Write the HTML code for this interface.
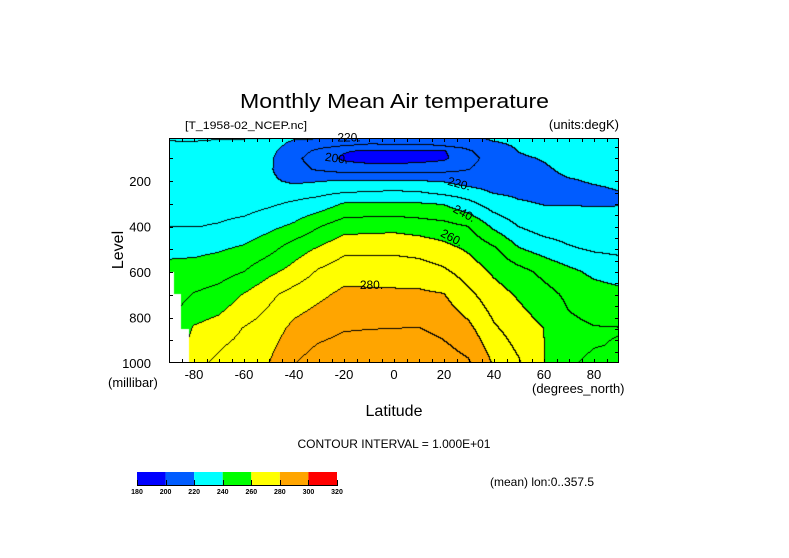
<!DOCTYPE html>
<html><head><meta charset="utf-8"><style>
html,body{margin:0;padding:0;background:#fff;}
#wrap{position:relative;width:789px;height:558px;overflow:hidden;font-family:"Liberation Sans",sans-serif;}
svg text{font-family:"Liberation Sans",sans-serif;fill:#000;}
#plot{position:absolute;left:169px;top:138px;}
#overlay{position:absolute;left:0;top:0;}
</style></head><body>
<div id="wrap">
<canvas id="plot" width="450" height="225"></canvas>
<svg id="overlay" width="789" height="558"></svg>
</div>
<script>
// ---- data ----
const lats = [-90,-80,-70,-60,-50,-40,-30,-20,-10,0,10,20,30,40,50,60,70,80,90];
const levels = [10,20,30,50,70,100,150,200,250,300,400,500,600,700,850,925,1000];
const tLatM90 = [233,231,229,228,227,226,226,226,226,227,230,237.5,243,245,248,250,252];
const tLatM80 = [232.5,231,229.5,228,227,226,225.5,225.5,226,227,229.7,237.5,244,250.5,261,264,267];
const tLatM70 = [231,229.7,228.5,227,226,225,224.5,224.5,225,226.5,230.6,239,246,253.5,264.3,268.9,272];
const tLatM60 = [231,229.5,227.5,226,225,224,223,223,224,226,233,241.6,250,260.5,270.5,273,276];
const tLatM50 = [231,229,226,224,223,222,221.5,222,224,228.3,237.4,246.8,257.5,267.7,274.5,277.2,279.8];
const tLatM40 = [223,220,218,216,214,212,213,218,225.5,231.4,241.7,255.3,263.6,273.6,282.5,286,289.5];
const tLatM30 = [222,218.5,215,212,208,206,209,219.3,227.2,234.2,249.3,261.3,271.3,277.9,286.3,290.7,294.5];
const tLatM20 = [221,217,213,209,201,198,206,220.7,229.5,240.5,255.6,267.4,275.9,282.2,289.3,293,297];
const tLatM10 = [218,213,211,208.5,198,195,205.5,220.7,230.5,241,256.3,267.7,275.7,282,289.8,293.5,297.5];
const tLat0   = [215,212,211,209,197,195,205,220.8,231.3,241.2,256.8,267.9,275.4,281.8,290,294,298];
const tLatP10 = [215,212,211,209,198,196,206,220,230.4,240.5,255.3,266.5,274.9,281.7,290.3,294,297.5];
const tLatP20 = [215,213,211.5,209.5,199,198,207,219.3,227.2,239.3,253.3,263.4,271.8,280.4,287.6,291.2,294.5];
const tLatP30 = [217,215.5,214,212,209,207,210,215.5,224.1,232.8,249.8,258.6,265.6,272.3,282.5,287,291];
const tLatP40 = [222.5,221,219.5,217,215.5,214,214,215.5,219.3,224.8,238,251.8,258.5,264.1,271.5,275.5,279];
const tLatP50 = [224,223,222,221,220.2,219,218,217.5,218.2,221,229.8,240.8,253.5,258.8,265,268,271];
const tLatP60 = [225,224.5,224,223,222,220.5,219,218,218,219.6,225,236,247.5,253.5,260,260.3,260.5];
const tLatP70 = [225,224.7,224.5,224,223.5,223,221.5,219.5,218.5,219.6,224,231.3,242.5,248,252.3,252.3,251];
const tLatP80 = [223,223,223,223,223,223,222,220.5,219,219.5,223,228.8,237.8,244.5,250.5,250.3,248.5];
const tLatP90 = [221.5,222,222,222.5,222.5,222.5,222,221,219.9,219.7,222.5,227.8,235.5,242.7,250.3,249.6,246];
const columns = [tLatM90,tLatM80,tLatM70,tLatM60,tLatM50,tLatM40,tLatM30,tLatM20,tLatM10,tLat0,tLatP10,tLatP20,tLatP30,tLatP40,tLatP50,tLatP60,tLatP70,tLatP80,tLatP90];
const terrainLatEdges = [-90,-88,-85,-82];
const terrainSurfaceP = [600,697,850];
const shadeLevels = [180,200,220,240,260,280,300,320];
const shadeColors = ["#0000ff","#005cff","#00ffff","#00ff00","#ffff00","#ffa500","#ff0000"];
const contourStep = 10;
const xTickLabels = [-80,-60,-40,-20,0,20,40,60,80];
const yTickLabels = [200,400,600,800,1000];
const contourLabels = [
  {text:"220.", lat:-18, p:12, rot:0},
  {text:"200.", lat:-23, p:103, rot:8},
  {text:"220.", lat:26, p:215, rot:15},
  {text:"240.", lat:28, p:345, rot:28},
  {text:"260.", lat:23, p:452, rot:28},
  {text:"280.", lat:-9, p:660, rot:0}
];

// ---- axes ----
const PL=169, PT=138, PW=450, PH=225;
const latMin=-90, latMax=90, pMin=10, pMax=1000;
function xOf(lat){return PL + (lat-latMin)/(latMax-latMin)*PW;}
function yOf(p){return PT + (p-pMin)/(pMax-pMin)*PH;}

function valueAt(lat,p){
  let i=0; while(i<lats.length-2 && lat>lats[i+1]) i++;
  let j=0; while(j<levels.length-2 && p>levels[j+1]) j++;
  const fx=Math.max(0,Math.min(1,(lat-lats[i])/(lats[i+1]-lats[i])));
  const fy=Math.max(0,Math.min(1,(p-levels[j])/(levels[j+1]-levels[j])));
  const a=columns[i][j], b=columns[i+1][j], c=columns[i][j+1], d=columns[i+1][j+1];
  return a*(1-fx)*(1-fy)+b*fx*(1-fy)+c*(1-fx)*fy+d*fx*fy;
}
function isMasked(lat,p){
  for(let k=0;k<terrainSurfaceP.length;k++){
    if(lat>=terrainLatEdges[k] && lat<terrainLatEdges[k+1] && p>terrainSurfaceP[k]) return true;
  }
  return false;
}
function hexRGB(h){return [parseInt(h.substr(1,2),16),parseInt(h.substr(3,2),16),parseInt(h.substr(5,2),16)];}
const rgbs = shadeColors.map(hexRGB);

// ---- field render ----
const cv=document.getElementById('plot');
const ctx=cv.getContext('2d');
const img=ctx.createImageData(PW,PH);
const T=new Float32Array(PW*PH), M=new Uint8Array(PW*PH);
for(let py=0;py<PH;py++){
  const p=pMin+(py+0.5)/PH*(pMax-pMin);
  for(let px=0;px<PW;px++){
    const lat=latMin+(px+0.5)/PW*(latMax-latMin);
    T[py*PW+px]=valueAt(lat,p);
    M[py*PW+px]=isMasked(lat,p)?1:0;
  }
}
for(let py=0;py<PH;py++){
  for(let px=0;px<PW;px++){
    const k=py*PW+px, o=k*4;
    let c=[255,255,255];
    if(!M[k]){
      const t=T[k];
      let b=0; while(b<shadeColors.length-1 && t>=shadeLevels[b+1]) b++;
      c=rgbs[b];
      const lv=Math.floor(t/contourStep);
      let edge=false;
      if(px<PW-1 && !M[k+1] && Math.floor(T[k+1]/contourStep)!==lv) edge=true;
      if(py<PH-1 && !M[k+PW] && Math.floor(T[k+PW]/contourStep)!==lv) edge=true;
      if(edge) c=[0,0,0];
    }
    img.data[o]=c[0];img.data[o+1]=c[1];img.data[o+2]=c[2];img.data[o+3]=255;
  }
}
ctx.putImageData(img,0,0);

// ---- svg overlay ----
const NS="http://www.w3.org/2000/svg";
const svg=document.getElementById('overlay');
function mk(tag,attrs,parent){const e=document.createElementNS(NS,tag);for(const k in attrs)e.setAttribute(k,attrs[k]);(parent||svg).appendChild(e);return e;}

contourLabels.forEach(function(l){
  const g=mk('text',{x:xOf(l.lat),y:yOf(l.p),'font-size':'12','text-anchor':'middle','dominant-baseline':'middle',transform:'rotate('+l.rot+' '+xOf(l.lat)+' '+yOf(l.p)+')'});
  
  
  g.textContent=l.text;
});

const frame=mk('rect',{x:PL+0.5,y:PT+0.5,width:PW-1,height:PH-1,fill:'none',stroke:'#000','stroke-width':'1'});



const ticks=mk('g',{stroke:'#000','stroke-width':'1'});


for(let lat=-85;lat<=85;lat+=5){
  const x=Math.round(xOf(lat))+0.5;
  mk('line',{x1:x,y1:PT+PH,x2:x,y2:PT+PH-4},ticks);
  mk('line',{x1:x,y1:PT,x2:x,y2:PT+4},ticks);
}
for(let p=100;p<=900;p+=100){
  const y=Math.round(yOf(p))+0.5;
  mk('line',{x1:PL,y1:y,x2:PL+4,y2:y},ticks);
}
for(let p=50;p<1000;p+=50){
  const y=Math.round(yOf(p))+0.5;
  mk('line',{x1:PL+PW,y1:y,x2:PL+PW-4,y2:y},ticks);
}

xTickLabels.forEach(function(v){
  const t=mk('text',{x:xOf(v),y:379,'font-size':'13','text-anchor':'middle'});
  
  
  t.textContent=v;
});
yTickLabels.forEach(function(v){
  const t=mk('text',{x:151,y:yOf(v)+5,'font-size':'13','text-anchor':'end'});
  
  
  t.textContent=v;
});

const cbX0=137, cbX1=337, cbY=472, cbH=13;
const nB=shadeColors.length, cbW=(cbX1-cbX0)/nB;
shadeColors.forEach(function(c,i){
  const r=mk('rect',{x:cbX0+i*cbW,y:cbY,width:cbW,height:cbH,fill:c});
  
  
});
const cbTicks=mk('g',{stroke:'#000','stroke-width':'1'});


mk('line',{x1:cbX0,y1:cbY+cbH+0.5,x2:cbX1,y2:cbY+cbH+0.5},cbTicks);
shadeLevels.forEach(function(v,i){
  const x=Math.round(cbX0+i*cbW)+0.5;
  mk('line',{x1:x,y1:cbY+cbH-5,x2:x,y2:cbY+cbH+1},cbTicks);
  const t=mk('text',{x:cbX0+i*cbW,y:cbY+cbH+9,'font-size':'7','font-weight':'bold','text-anchor':'middle'});
  
  
  t.textContent=v;
});
</script>
<svg width="789" height="558" style="position:absolute;left:0;top:0;pointer-events:none">
<text x="240" y="108" font-size="20" textLength="309" lengthAdjust="spacingAndGlyphs" style="font-family:'Liberation Sans',sans-serif">Monthly Mean Air temperature</text>
<text x="185" y="129" font-size="11" textLength="122" lengthAdjust="spacingAndGlyphs" style="font-family:'Liberation Sans',sans-serif">[T_1958-02_NCEP.nc]</text>
<text x="619" y="129" font-size="13" text-anchor="end" style="font-family:'Liberation Sans',sans-serif">(units:degK)</text>
<text transform="translate(123 250) rotate(-90)" font-size="16" text-anchor="middle" style="font-family:'Liberation Sans',sans-serif">Level</text>
<text x="108" y="387" font-size="13" style="font-family:'Liberation Sans',sans-serif">(millibar)</text>
<text x="532" y="393" font-size="13" style="font-family:'Liberation Sans',sans-serif">(degrees_north)</text>
<text x="394" y="416" font-size="16" text-anchor="middle" style="font-family:'Liberation Sans',sans-serif">Latitude</text>
<text x="394" y="448" font-size="12" text-anchor="middle" style="font-family:'Liberation Sans',sans-serif">CONTOUR INTERVAL = 1.000E+01</text>
<text x="490" y="486" font-size="12" style="font-family:'Liberation Sans',sans-serif">(mean) lon:0..357.5</text>
</svg>
</body></html>
